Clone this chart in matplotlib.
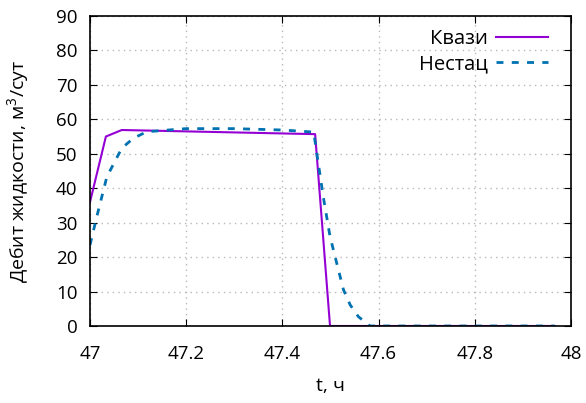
import numpy as np
import matplotlib
matplotlib.use("Agg")
import matplotlib.pyplot as plt

plt.rcParams['font.family'] = ['Open Sans', 'DejaVu Sans']
plt.rcParams['mathtext.fontset'] = 'custom'
plt.rcParams['mathtext.rm'] = 'Open Sans'

# Квази
t_kv = [47.0, 47.033, 47.066, 47.468, 47.499, 47.966]
q_kv = [36.0, 55.0, 56.9, 55.7, 0.0, 0.0]

# Нестац
t_ns = [47.0, 47.014, 47.035, 47.066, 47.09, 47.118, 47.2, 47.3, 47.4, 47.465,
        47.485, 47.499, 47.513, 47.527, 47.541, 47.558, 47.582, 47.966]
q_ns = [23.5, 31.7, 43.3, 51.6, 54.5, 56.4, 57.3, 57.3, 56.9, 56.3,
        37.5, 26.0, 18.2, 10.5, 6.1, 2.7, 0.0, 0.0]

fig = plt.figure(figsize=(5.86, 4.03), dpi=100)
ax = fig.add_axes([0.1536, 0.1911, 0.8208, 0.7692])

ax.plot(t_kv, q_kv, color='#9400d3', lw=1.5, label='Квази')
ax.plot(t_ns, q_ns, color='#0072b2', lw=2, ls=(0, (2.5, 3)), label='Нестац')

ax.set_xlim(47, 48)
ax.set_ylim(0, 90)
ax.set_xticks(np.arange(47, 48.01, 0.2))
ax.set_xticklabels(['47', '47.2', '47.4', '47.6', '47.8', '48'])
ax.set_yticks(np.arange(0, 91, 10))
ax.tick_params(direction='in', length=5, top=True, right=True, labelsize=13.5)
ax.tick_params(axis='x', pad=14)
ax.tick_params(axis='y', pad=9)
ax.grid(True, color='#b8b8b8', ls=(0, (1, 3)), lw=1)
for s in ax.spines.values():
    s.set_linewidth(1.2)

ax.set_xlabel('t, ч', fontsize=14, labelpad=10)
ax.set_ylabel('Дебит жидкости, м$^3$/сут', fontsize=14, labelpad=17)

leg = ax.legend(loc='upper right', bbox_to_anchor=(548 / 586, 1 - 29 / 403),
                bbox_transform=fig.transFigure, frameon=False, markerfirst=False,
                fontsize=14.5, handlelength=2.6, handletextpad=0.4,
                borderpad=0, borderaxespad=0, labelspacing=0.25)
for t in leg.get_texts():
    t.set_ha('right')

fig.savefig('out.png', dpi=100)
